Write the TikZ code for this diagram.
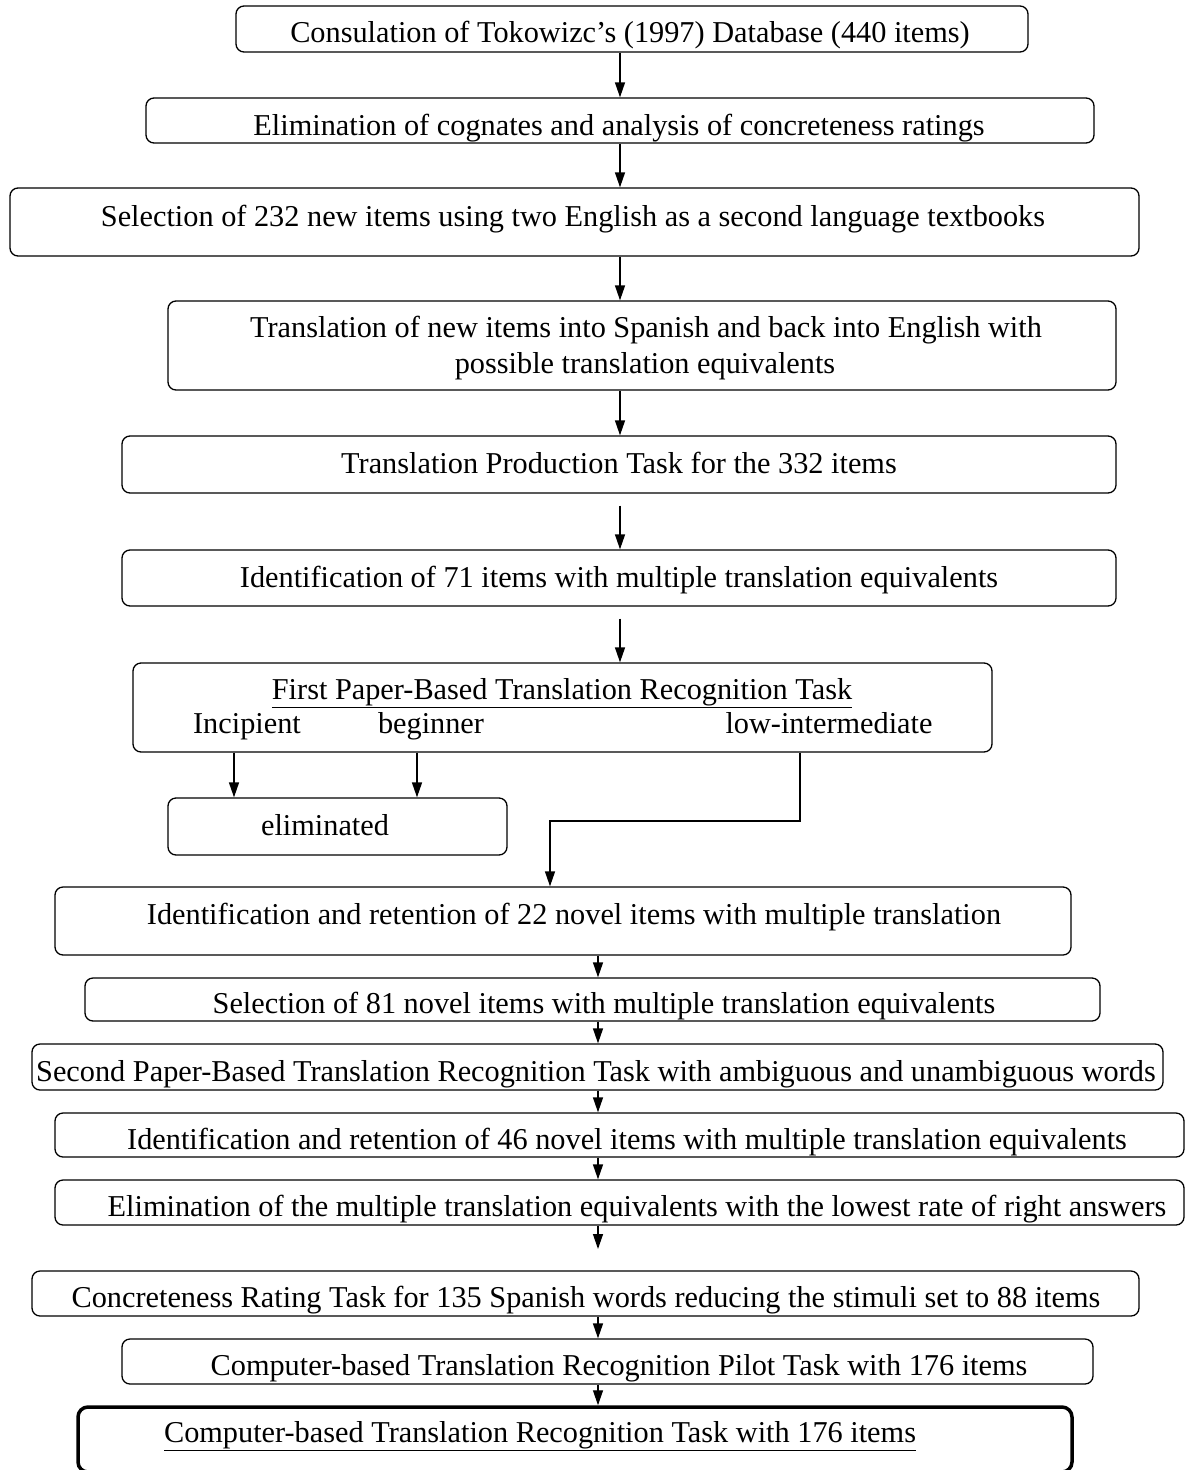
\documentclass[tikz,border=0pt]{standalone}
\usepackage{fontspec}
\setmainfont{Liberation Serif}
\usetikzlibrary{arrows.meta}

\tikzset{
  box/.style={draw,line width=1.3pt,rounded corners=8pt,inner sep=0pt},
  bigbox/.style={box,line width=3.5pt,rounded corners=10pt},
  txt/.style={anchor=base,inner sep=0pt,font=\fontsize{30.3}{34}\selectfont},
  arr/.style={line width=1.3pt,-{Triangle[length=15pt,width=10pt]}}
}

\begin{document}
\begin{tikzpicture}[x=1pt,y=-1pt]
\useasboundingbox (0,0) rectangle (1186,1470);

\node[box,minimum width=792pt,minimum height=46pt] (b1) at (632,29) {};
\node[box,minimum width=948pt,minimum height=45pt] (b2) at (620,120.5) {};
\node[box,minimum width=1129pt,minimum height=68pt] (b3) at (574.5,222) {};
\node[box,minimum width=948pt,minimum height=89pt] (b4) at (642,345.5) {};
\node[box,minimum width=994pt,minimum height=57pt] (b5) at (619,464.5) {};
\node[box,minimum width=994pt,minimum height=56pt] (b6) at (619,578) {};
\node[box,minimum width=859pt,minimum height=89pt] (b7) at (562.5,707.5) {};
\node[box,minimum width=339pt,minimum height=57pt] (b8) at (337.5,826.5) {};
\node[box,minimum width=1016pt,minimum height=68pt] (b9) at (563,921) {};
\node[box,minimum width=1015pt,minimum height=43pt] (b10) at (592.5,999.5) {};
\node[box,minimum width=1131pt,minimum height=46pt] (b11) at (597.5,1067) {};
\node[box,minimum width=1129pt,minimum height=44pt] (b12) at (619.5,1135) {};
\node[box,minimum width=1129pt,minimum height=45pt] (b13) at (619.5,1202.5) {};
\node[box,minimum width=1107pt,minimum height=45pt] (b14) at (585.5,1293.5) {};
\node[box,minimum width=971pt,minimum height=45pt] (b15) at (607.5,1361.5) {};
\node[bigbox,minimum width=994pt,minimum height=65pt] (b16) at (575,1439.5) {};

\node[txt] (t1) at (630,42) {Consulation of Tokowizc’s (1997) Database (440 items)};
\node[txt] (t2) at (619,135) {Elimination of cognates and analysis of concreteness ratings};
\node[txt] (t3) at (573,226) {Selection of 232 new items using two English as a second language textbooks};
\node[txt] (t4a) at (646,337) {Translation of new items into Spanish and back into English with};
\node[txt] (t4b) at (645,373) {possible translation equivalents};
\node[txt] (t5) at (619,473) {Translation Production Task for the 332 items};
\node[txt] (t6) at (619,587) {Identification of 71 items with multiple translation equivalents};
\node[txt] (t7) at (562,699) {\underline{First Paper-Based Translation Recognition Task}};
\node[txt] (t7a) at (247,733) {Incipient};
\node[txt] (t7b) at (431,733) {beginner};
\node[txt] (t7c) at (829,733) {low-intermediate};
\node[txt] (t8) at (325,835) {eliminated};
\node[txt] (t9) at (574,924) {Identification and retention of 22 novel items with multiple translation};
\node[txt] (t10) at (604,1013) {Selection of 81 novel items with multiple translation equivalents};
\node[txt] (t11) at (596,1081) {Second Paper-Based Translation Recognition Task with ambiguous and unambiguous words};
\node[txt] (t12) at (627,1149) {Identification and retention of 46 novel items with multiple translation equivalents};
\node[txt] (t13) at (637,1216) {Elimination of the multiple translation equivalents with the lowest rate of right answers};
\node[txt] (t14) at (586,1307) {Concreteness Rating Task for 135 Spanish words reducing the stimuli set to 88 items};
\node[txt] (t15) at (619,1375) {Computer-based Translation Recognition Pilot Task with 176 items};
\node[txt] (t16) at (540,1442) {\underline{Computer-based Translation Recognition Task with 176 items}};

\coordinate (up) at (620,0);
\coordinate (low) at (598,0);
\coordinate (c1) at (234,0);
\coordinate (c2) at (417,0);
\coordinate (c3) at (800,0);
\coordinate (c4) at (550,821);
\coordinate (end13) at (598,1249);

\draw[arr] (b1.south -| up) -- (b2.north -| up);
\draw[arr] (b2.south -| up) -- (b3.north -| up);
\draw[arr] (b3.south -| up) -- (b4.north -| up);
\draw[arr] (b4.south -| up) -- (b5.north -| up);
\draw[arr,shorten <=12pt] (b5.south -| up) -- (b6.north -| up);
\draw[arr,shorten <=12pt] (b6.south -| up) -- (b7.north -| up);
\draw[arr] (b7.south -| c1) -- (b8.north -| c1);
\draw[arr] (b7.south -| c2) -- (b8.north -| c2);
\draw[arr] (b7.south -| c3) |- (c4) -- (b9.north -| c4);
\draw[arr] (b9.south -| low) -- (b10.north -| low);
\draw[arr] (b10.south -| low) -- (b11.north -| low);
\draw[arr] (b11.south -| low) -- (b12.north -| low);
\draw[arr] (b12.south -| low) -- (b13.north -| low);
\draw[arr] (b13.south -| low) -- (end13);
\draw[arr] (b14.south -| low) -- (b15.north -| low);
\draw[arr] (b15.south -| low) -- (b16.north -| low);
\end{tikzpicture}
\end{document}
